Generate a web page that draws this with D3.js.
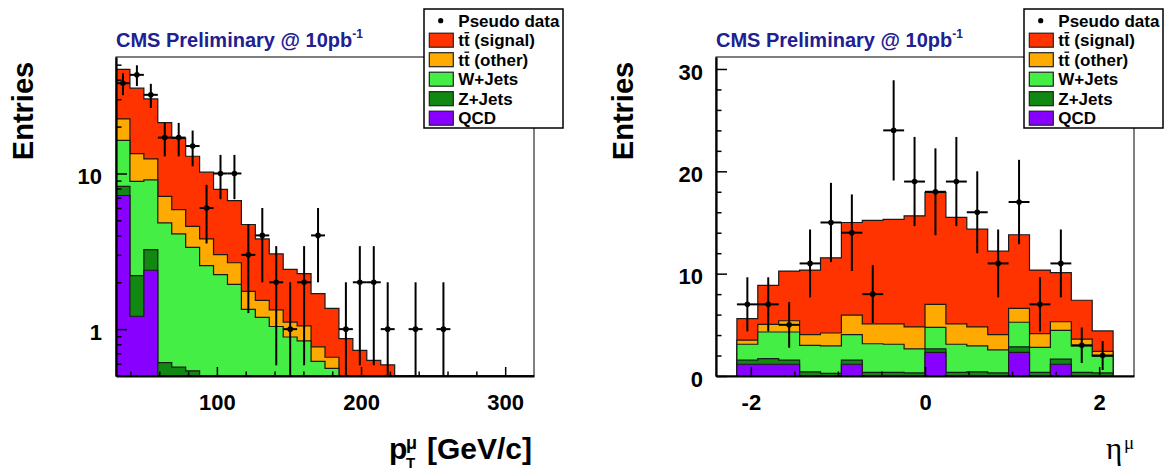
<!DOCTYPE html>
<html>
<head>
<meta charset="utf-8">
<script src="https://cdn.jsdelivr.net/npm/d3@7/dist/d3.min.js"></script>
<style>
  body { margin: 0; background: #fff; }
  svg { display: block; font-family: "Liberation Sans", Arial, Helvetica, sans-serif; font-weight: bold; }
</style>
</head>
<body>
<svg id="chart" width="1175" height="470"></svg>
<script>
// muon pT: 30 bins from 30 to 320 GeV/c
var PT_RANGE = [30, 320];
var PT_NBINS = 30;
var ptSignal  = [24.3, 21.9, 17.7, 14.1, 10.95, 8.33, 6.4, 4.89, 4.03, 2.95, 2.27, 1.71, 1.31, 1.22, 0.92, 0.70, 0.42, 0.40, 0.37, 0.39, 0, 0, 0, 0, 0, 0, 0, 0, 0, 0];
var ptTtOther = [6.1, 4.51, 3.3, 2.31, 1.76, 1.22, 1.24, 0.77, 0.73, 0.41, 0.34, 0.29, 0.22, 0.21, 0.15, 0.10, 0.10, 0.08, 0.06, 0.05, 0, 0, 0, 0, 0, 0, 0, 0, 0, 0];
var ptWJets   = [8.04, 6.68, 5.86, 4.2, 3.52, 2.81, 2.56, 2.24, 1.94, 1.34, 1.19, 1.04, 0.89, 0.84, 0.62, 0.56, 0.35, 0.25, 0.2, 0.15, 0, 0, 0, 0, 0, 0, 0, 0, 0, 0];
var ptZJets   = [1.04, 1.0, 0.85, 0.61, 0.57, 0.54, 0, 0, 0, 0, 0, 0, 0, 0, 0, 0, 0, 0, 0, 0, 0, 0, 0, 0, 0, 0, 0, 0, 0, 0];
var ptQCD     = [7.22, 1.21, 2.39, 0, 0, 0, 0, 0, 0, 0, 0, 0, 0, 0, 0, 0, 0, 0, 0, 0, 0, 0, 0, 0, 0, 0, 0, 0, 0, 0];
var ptData    = [38, 43, 32, 17, 17, 15, 6, 10, 10, 3, 4, 2, 1, 2, 4, 0, 1, 2, 2, 1, 0, 1, 0, 1, 0, 0, 0, 0, 0, 0];
var ptMajorTicks = [100, 200, 300];
var ptMinorTicks = [40, 60, 80, 120, 140, 160, 180, 220, 240, 260, 280];
var ptYMajorTicks = [1, 10];
var ptYMinorTicks = [0.6, 0.7, 0.8, 0.9, 2, 3, 4, 5, 6, 7, 8, 9, 20, 30, 40, 50];

// muon eta: 18 bins from -2.16 to 2.16
var ETA_RANGE = [-2.16, 2.16];
var ETA_NBINS = 18;
var etaSignal  = [2.1, 3.8, 4.85, 6.3, 7.35, 9.05, 10.1, 10.2, 10.85, 10.95, 10.4, 9.55, 8.15, 7.2, 6.2, 4.8, 3.8, 2.0];
var etaTtOther = [0.4, 0.75, 1.1, 1.05, 1.25, 1.9, 1.95, 2.0, 2.15, 2.25, 2.0, 1.85, 1.5, 1.35, 1.35, 0.85, 0.65, 0.45];
var etaWJets   = [1.55, 2.6, 2.75, 2.6, 2.7, 2.5, 2.8, 2.75, 2.35, 2.1, 2.75, 2.55, 2.25, 2.4, 2.45, 2.8, 2.6, 1.65];
var etaZJets   = [0.4, 0.55, 0.4, 0.4, 0.25, 0.4, 0.35, 0.35, 0.3, 0.35, 0.35, 0.4, 0.3, 0.55, 0.35, 0.5, 0.35, 0.3];
var etaQCD     = [1.15, 1.15, 1.15, 0, 0, 1.15, 0, 0, 0, 2.3, 0, 0, 0, 2.3, 0, 1.15, 0, 0];
var etaData    = [7, 7, 5, 11, 15, 14, 8, 24, 19, 18, 19, 16, 11, 17, 7, 11, 3, 2];
var etaMajorTicks = [-2, 0, 2];
var etaMinorTicks = [-1.5, -1, -0.5, 0.5, 1, 1.5];
var etaYMajorTicks = [0, 10, 20, 30];
var etaYMinorTicks = [2, 4, 6, 8, 12, 14, 16, 18, 22, 24, 26, 28];

var legendLabels = ["Pseudo data", "tt (signal)", "tt (other)", "W+Jets", "Z+Jets", "QCD"];

// stack colours, bottom layer first: QCD, Z+Jets, W+Jets, tt other, tt signal
var stackColors = ["#8800ff", "#118811", "#44ee44", "#ffaa00", "#ff3300"];
var TITLE_BLUE = "#202090";

var svg = d3.select("#chart");
svg.append("rect").attr("width", 1175).attr("height", 470).attr("fill", "#fff");

function drawPanel(p) {
    var x = p.x, y = p.y;
    var left = x.range()[0], right = x.range()[1];
    var bottom = y.range()[0], top = y.range()[1];
    var g = svg.append("g");

    svg.append("clipPath").attr("id", p.id + "-clip")
        .append("rect")
        .attr("x", left).attr("y", top)
        .attr("width", right - left).attr("height", bottom - top);

    var edges = d3.range(p.nbins + 1).map(function (i) {
        return p.range[0] + i * (p.range[1] - p.range[0]) / p.nbins;
    });

    // cumulative sums of the stack
    var cum = [];
    var running = p.layers[0].map(function () { return 0; });
    p.layers.forEach(function (layer) {
        running = running.map(function (v, i) { return v + layer[i]; });
        cum.push(running);
    });

    var plot = g.append("g").attr("clip-path", "url(#" + p.id + "-clip)");

    var area = d3.area()
        .x(function (d) { return x(d[0]); })
        .y0(bottom)
        .y1(function (d) { return y(Math.max(d[1], p.yFloor)); });

    for (var k = cum.length - 1; k >= 0; k--) {
        var pts = [];
        for (var i = 0; i < p.nbins; i++) {
            pts.push([edges[i], cum[k][i]], [edges[i + 1], cum[k][i]]);
        }
        plot.append("path")
            .datum(pts)
            .attr("d", area)
            .attr("fill", stackColors[k])
            .attr("stroke", "#1a1a1a")
            .attr("stroke-width", 1.2);
    }

    // pseudo data with sqrt(N) errors
    var pts = p.data.map(function (n, i) {
        return { n: n, x0: edges[i], x1: edges[i + 1], xc: (edges[i] + edges[i + 1]) / 2 };
    }).filter(function (d) { return d.n > 0; });

    var dg = plot.append("g").attr("stroke", "#000").attr("stroke-width", 2);
    dg.selectAll("line.h").data(pts).enter().append("line")
        .attr("x1", function (d) { return x(d.x0); })
        .attr("x2", function (d) { return x(d.x1); })
        .attr("y1", function (d) { return y(d.n); })
        .attr("y2", function (d) { return y(d.n); });
    dg.selectAll("line.v").data(pts).enter().append("line")
        .attr("x1", function (d) { return x(d.xc); })
        .attr("x2", function (d) { return x(d.xc); })
        .attr("y1", function (d) { return y(Math.max(d.n - Math.sqrt(d.n), p.yFloor)); })
        .attr("y2", function (d) { return y(d.n + Math.sqrt(d.n)); });
    plot.selectAll("circle").data(pts).enter().append("circle")
        .attr("cx", function (d) { return x(d.xc); })
        .attr("cy", function (d) { return y(d.n); })
        .attr("r", 2.8)
        .attr("fill", "#000");

    // frame
    g.append("rect")
        .attr("x", left).attr("y", top)
        .attr("width", right - left).attr("height", bottom - top)
        .attr("fill", "none").attr("stroke", "#000").attr("stroke-width", 1);

    // axes
    var fmt = function (d) { return String(d); };
    var xa = g.append("g").attr("transform", "translate(0," + bottom + ")")
        .call(d3.axisBottom(x).tickValues(p.xMajor).tickSize(-9).tickSizeOuter(0).tickPadding(18).tickFormat(fmt));
    g.append("g").attr("transform", "translate(0," + bottom + ")")
        .call(d3.axisBottom(x).tickValues(p.xMinor).tickSize(-4.5).tickSizeOuter(0).tickFormat(""))
        .select(".domain").remove();
    var ya = g.append("g").attr("transform", "translate(" + left + ",0)")
        .call(d3.axisLeft(y).tickValues(p.yMajor).tickSize(-11).tickSizeOuter(0).tickPadding(p.yPad).tickFormat(fmt));
    g.append("g").attr("transform", "translate(" + left + ",0)")
        .call(d3.axisLeft(y).tickValues(p.yMinor).tickSize(-5.5).tickSizeOuter(0).tickFormat(""))
        .select(".domain").remove();

    [xa, ya].forEach(function (a) {
        a.attr("font-family", null).attr("font-size", null);
        a.select(".domain").attr("stroke", "#000").attr("stroke-width", 2.2);
        a.selectAll("text").attr("font-size", 22).attr("fill", "#000");
    });
    ya.selectAll("text").attr("y", 3);
    g.selectAll(".tick line").attr("stroke", "#000").attr("stroke-width", 1.5);

    // titles
    var title = g.append("text")
        .attr("x", left).attr("y", 47)
        .attr("font-size", 20).attr("fill", TITLE_BLUE)
        .text("CMS Preliminary @ 10pb");
    title.append("tspan").attr("dy", -9).attr("font-size", 12).text("-1");

    g.append("text")
        .attr("transform", "translate(" + (left - 93) + ",111) rotate(-90)")
        .attr("text-anchor", "middle").attr("dy", "0.35em")
        .attr("font-size", 29).attr("fill", "#000")
        .text("Entries");

    p.xTitle(g);
    drawLegend(g, p.legendX, 9);
}

function drawLegend(g, x0, y0) {
    var lg = g.append("g").attr("transform", "translate(" + x0 + "," + y0 + ")");
    lg.append("rect").attr("width", 139).attr("height", 119)
        .attr("fill", "#fff").attr("stroke", "#000").attr("stroke-width", 1.5);
    legendLabels.forEach(function (label, i) {
        var cy = 11.7 + i * 19.5;
        if (i === 0) {
            lg.append("circle").attr("cx", 16.7).attr("cy", cy).attr("r", 2.6).attr("fill", "#000");
        } else {
            lg.append("rect").attr("x", 5.3).attr("y", cy - 7).attr("width", 24).attr("height", 14)
                .attr("fill", stackColors[5 - i]).attr("stroke", "#222").attr("stroke-width", 1.2);
        }
        var t = lg.append("text").attr("x", 34.3).attr("y", cy + 6)
            .attr("font-size", 17).attr("fill", "#000").text(label);
        if (label.indexOf("tt") === 0) {
            var node = t.node();
            var a = node.getStartPositionOfChar(1).x;
            var b = node.getEndPositionOfChar(1).x;
            lg.append("line").attr("x1", a + 0.5).attr("x2", b - 0.5)
                .attr("y1", cy - 7.5).attr("y2", cy - 7.5)
                .attr("stroke", "#000").attr("stroke-width", 1.3);
        }
    });
}

drawPanel({
    id: "pt",
    range: PT_RANGE, nbins: PT_NBINS,
    layers: [ptQCD, ptZJets, ptWJets, ptTtOther, ptSignal],
    data: ptData,
    x: d3.scaleLinear().domain([30, 320]).range([116, 534]),
    y: d3.scaleLog().domain([0.5, 56]).range([376, 57]),
    yFloor: 0.5,
    xMajor: ptMajorTicks, xMinor: ptMinorTicks,
    yMajor: ptYMajorTicks, yMinor: ptYMinorTicks,
    yPad: 14,
    legendX: 424,
    xTitle: function (g) {
        var t = g.append("g").attr("fill", "#000");
        t.append("text").attr("x", 389).attr("y", 459).attr("font-size", 30).text("p");
        t.append("text").attr("x", 406).attr("y", 449).attr("font-size", 18).text("\u03bc");
        t.append("text").attr("x", 406).attr("y", 468).attr("font-size", 15).text("T");
        t.append("text").attr("x", 427).attr("y", 459).attr("font-size", 30).text("[GeV/c]");
    }
});

drawPanel({
    id: "eta",
    range: ETA_RANGE, nbins: ETA_NBINS,
    layers: [etaQCD, etaZJets, etaWJets, etaTtOther, etaSignal],
    data: etaData,
    x: d3.scaleLinear().domain([-2.4, 2.4]).range([716, 1134]),
    y: d3.scaleLinear().domain([0, 31.17]).range([376, 57]),
    yFloor: 0,
    xMajor: etaMajorTicks, xMinor: etaMinorTicks,
    yMajor: etaYMajorTicks, yMinor: etaYMinorTicks,
    yPad: 13,
    legendX: 1024,
    xTitle: function (g) {
        var t = g.append("g").attr("fill", "#000")
            .attr("font-family", "'Liberation Serif', 'Times New Roman', serif").attr("font-weight", "normal");
        t.append("text").attr("x", 1106).attr("y", 459).attr("font-size", 31).text("\u03b7");
        t.append("text").attr("x", 1124).attr("y", 449).attr("font-size", 19).text("\u03bc");
    }
});
</script>
</body>
</html>
